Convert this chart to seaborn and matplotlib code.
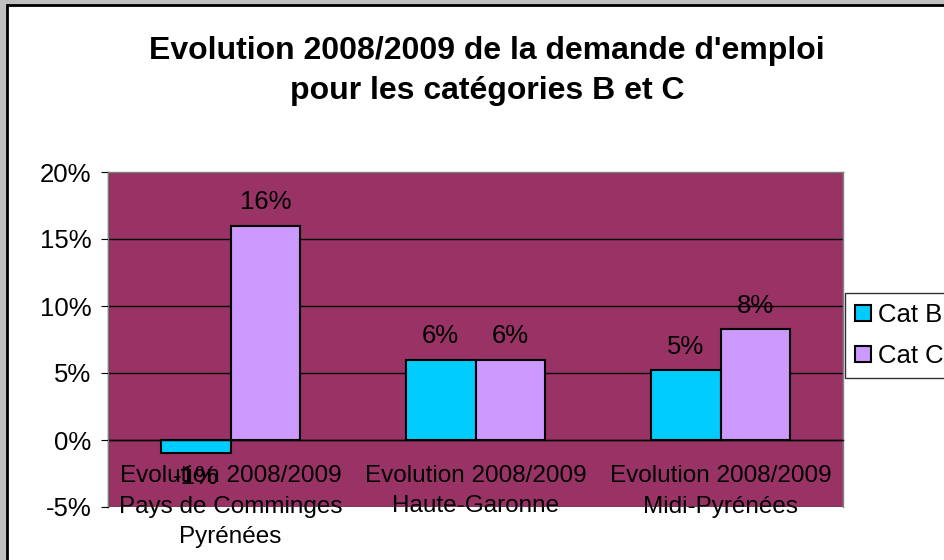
import pandas as pd
import numpy as np
import matplotlib
matplotlib.use("Agg")
import matplotlib.pyplot as plt
import seaborn as sns
from matplotlib.patches import Rectangle
from matplotlib.ticker import PercentFormatter, FixedLocator

# -----------------------------------
# Data
# -----------------------------------
zones = [
    "Evolution 2008/2009\nPays de Comminges\nPyrénées",
    "Evolution 2008/2009\nHaute-Garonne",
    "Evolution 2008/2009\nMidi-Pyrénées",
]
series = ["Cat B", "Cat C"]
cat_b = [-0.01, 0.06, 0.052]
cat_c = [0.16, 0.06, 0.083]
y_ticks = [-0.05, 0.0, 0.05, 0.10, 0.15, 0.20]

df = pd.DataFrame({
    "zone": zones * 2,
    "cat": ["Cat B"] * 3 + ["Cat C"] * 3,
    "value": cat_b + cat_c,
})

# -----------------------------------
# Figure
# -----------------------------------
sns.set_style("white")
plt.rcParams["font.family"] = ["Liberation Sans", "DejaVu Sans"]
plt.rcParams["text.color"] = "black"
plt.rcParams["xtick.color"] = "black"
plt.rcParams["ytick.color"] = "black"
plt.rcParams["axes.unicode_minus"] = False

fig = plt.figure(figsize=(9.44, 5.6), dpi=100, facecolor="#c0c0c0")
frame = Rectangle((7 / 944, -0.1), 1.2, 1 - 5 / 560 + 0.1,
                  transform=fig.transFigure, facecolor="white",
                  edgecolor="black", linewidth=2, zorder=-10)
fig.patches.append(frame)

ax = fig.add_axes([108 / 944, 1 - 507 / 560, 735 / 944, 335 / 560])
ax.set_facecolor("#993366")

sns.barplot(
    data=df, x="zone", y="value", hue="cat",
    palette={"Cat B": "#00ccff", "Cat C": "#cc99ff"},
    width=0.57, edgecolor="black", linewidth=1.5,
    saturation=1, ax=ax,
)

for cont in ax.containers:
    ax.bar_label(cont, labels=[f"{v:.0%}" for v in cont.datavalues],
                 padding=8, fontsize=18.5)

ax.set_ylim(-0.05, 0.20)
ax.set_xlim(-0.5, 2.5)
ax.yaxis.set_major_locator(FixedLocator(y_ticks))
ax.yaxis.set_major_formatter(PercentFormatter(1.0, decimals=0))
ax.grid(axis="y", color="black", linewidth=1)
ax.set_axisbelow(True)

ax.spines["bottom"].set_position(("data", 0))
ax.spines["bottom"].set_color("black")
ax.spines["left"].set_color("black")
ax.spines["top"].set_color("#808080")
ax.spines["right"].set_color("#808080")
for s in ax.spines.values():
    s.set_visible(True)
    s.set_linewidth(1)

ax.set_xticks([0.5, 1.5, 2.5], minor=True)
ax.tick_params(axis="x", which="major", length=0, pad=18, labelsize=17.5)
ax.tick_params(axis="x", which="minor", length=5, direction="out", color="black")
ax.tick_params(axis="y", length=5, direction="out", color="black", labelsize=18.5, pad=7, left=True)
for lbl in ax.get_xticklabels():
    lbl.set_linespacing(1.5)
ax.set_xlabel("")
ax.set_ylabel("")

# gray frame of the plot area
ax.add_patch(Rectangle((0, 0), 1, 1, transform=ax.transAxes, fill=False,
                       edgecolor="#808080", linewidth=1, zorder=5))

leg = ax.legend(
    loc="upper left", bbox_to_anchor=(845 / 944, 1 - 293 / 560),
    bbox_transform=fig.transFigure, fontsize=18.5, frameon=True,
    fancybox=False, edgecolor="black", borderaxespad=0,
    handlelength=0.6, handleheight=0.6, handletextpad=0.3,
    borderpad=0.4, labelspacing=0.65, title=None,
)
leg.get_frame().set_linewidth(1)

fig.text(487 / 944, 1 - 71 / 560,
         "Evolution 2008/2009 de la demande d'emploi\npour les catégories B et C",
         ha="center", va="center", fontsize=23, fontweight="bold",
         linespacing=1.45)

plt.savefig("out.png", dpi=100, facecolor=fig.get_facecolor())
